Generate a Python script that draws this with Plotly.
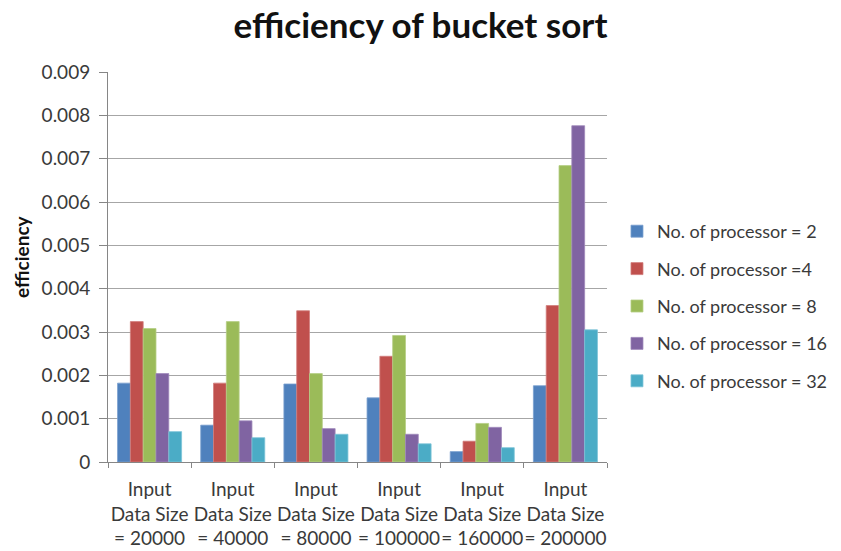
import plotly.graph_objects as go

# Input sizes along the category axis
categories = [
    "Input<br>Data Size<br>= 20000",
    "Input<br>Data Size<br>= 40000",
    "Input<br>Data Size<br>= 80000",
    "Input<br>Data Size<br>= 100000",
    "Input<br>Data Size<br>= 160000",
    "Input<br>Data Size<br>= 200000",
]

# Efficiency per processor count
p2 = [0.00182, 0.00085, 0.00180, 0.00148, 0.00024, 0.00176]
p4 = [0.00324, 0.00182, 0.00349, 0.00244, 0.00048, 0.00361]
p8 = [0.00308, 0.00324, 0.00204, 0.00292, 0.00089, 0.00684]
p16 = [0.00204, 0.00095, 0.00077, 0.00064, 0.00080, 0.00776]
p32 = [0.00070, 0.00056, 0.00064, 0.00042, 0.00033, 0.00305]

series_names = [
    "No. of processor = 2",
    "No. of processor =4",
    "No. of processor = 8",
    "No. of processor = 16",
    "No. of processor = 32",
]
series_values = [p2, p4, p8, p16, p32]
colors = ["#4F81BD", "#C0504D", "#9BBB59", "#8064A2", "#4BACC6"]
edges = ["#7A9FCF", "#D27E7C", "#B5CE85", "#9E88BA", "#7CC4D8"]

y_ticks = [0, 0.001, 0.002, 0.003, 0.004, 0.005, 0.006, 0.007, 0.008, 0.009]
y_labels = ["0", "0.001", "0.002", "0.003", "0.004", "0.005", "0.006", "0.007", "0.008", "0.009"]

font_family = "Lato, Carlito, 'Liberation Sans', sans-serif"
text_color = "#3A3A3A"

fig = go.Figure()
for i, (name, vals, c, e) in enumerate(zip(series_names, series_values, colors, edges)):
    fig.add_trace(go.Bar(
        x=categories,
        y=vals,
        name=name,
        legendgroup=f"g{i}",
        marker=dict(color=c, line=dict(color=e, width=0.8)),
    ))

fig.update_layout(
    width=841,
    height=551,
    margin=dict(l=108, r=234, t=72, b=89, autoexpand=False),
    paper_bgcolor="white",
    plot_bgcolor="white",
    barmode="group",
    bargap=0.23,
    bargroupgap=0,
    font=dict(family=font_family, color=text_color, size=19),
    title=dict(
        text="<b>efficiency of bucket sort</b>",
        x=0.5,
        xanchor="center",
        y=0.953,
        yanchor="middle",
        font=dict(family=font_family, size=35, color="#111111"),
    ),
    legend=dict(
        x=1.02,
        xanchor="left",
        y=0.40,
        yanchor="middle",
        traceorder="grouped",
        tracegroupgap=11,
        font=dict(family=font_family, size=18, color=text_color),
        itemwidth=30,
    ),
    showlegend=True,
    annotations=[
        dict(
            text="<b>efficiency</b>",
            textangle=-90,
            xref="paper",
            yref="paper",
            x=-0.172,
            y=0.526,
            xanchor="center",
            yanchor="middle",
            showarrow=False,
            font=dict(family=font_family, size=19, color="#111111"),
        )
    ],
)

fig.update_xaxes(
    showline=True,
    linecolor="#868686",
    linewidth=1,
    ticks="outside",
    tickson="boundaries",
    ticklen=5,
    tickcolor="#868686",
    tickangle=0,
    automargin=False,
    tickfont=dict(family=font_family, size=19, color=text_color),
    ticklabelstandoff=10,
    showgrid=False,
)

fig.update_yaxes(
    range=[0, 0.009],
    tickvals=y_ticks,
    ticktext=y_labels,
    showline=True,
    linecolor="#868686",
    linewidth=1,
    ticks="outside",
    ticklen=8,
    tickcolor="#868686",
    ticklabelstandoff=5,
    automargin=False,
    showgrid=True,
    gridcolor="#A6A6A6",
    gridwidth=1,
    zeroline=False,
    tickfont=dict(family=font_family, size=19, color=text_color),
)

fig.write_html("out.html")
